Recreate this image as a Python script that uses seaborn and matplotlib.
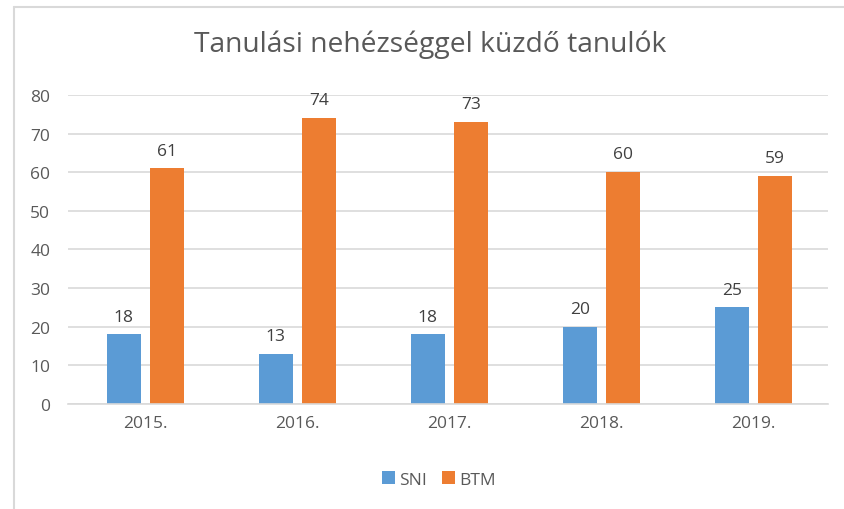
import matplotlib.pyplot as plt
import pandas as pd
import seaborn as sns
from matplotlib.lines import Line2D

# Data
years = ['2015.', '2016.', '2017.', '2018.', '2019.']
sni = [18, 13, 18, 20, 25]
btm = [61, 74, 73, 60, 59]

df = pd.DataFrame({
    'year': years * 2,
    'value': sni + btm,
    'group': ['SNI'] * len(years) + ['BTM'] * len(years),
})

sns.set_style('white')
plt.rcParams['font.family'] = ['Open Sans', 'DejaVu Sans']

fig = plt.figure(figsize=(8.44, 5.1), dpi=100)
ax = fig.add_axes([0.081, 0.206, 0.9, 0.606])

palette = {'SNI': '#5B9BD5', 'BTM': '#ED7D31'}
sns.barplot(data=df, x='year', y='value', hue='group', palette=palette,
            width=0.572, gap=0.21, saturation=1, linewidth=0,
            ax=ax, legend=True)

# value labels over the bars
for cont in ax.containers:
    ax.bar_label(cont, padding=7, fontsize=12.5, color='#404040')

ax.set_ylim(0, 80)
ax.set_xlim(-0.507, 4.49)
ax.set_yticks(range(0, 81, 10))
ax.yaxis.grid(True, color='#D9D9D9', linewidth=1.2)
ax.set_axisbelow(True)
for side in ['top', 'right', 'left']:
    ax.spines[side].set_visible(False)
ax.spines['bottom'].set_color('#D9D9D9')
ax.spines['bottom'].set_linewidth(1.2)
ax.tick_params(axis='both', length=0, labelsize=12.5, labelcolor='#595959')
ax.tick_params(axis='y', pad=13)
ax.tick_params(axis='x', pad=8)
ax.set_xlabel('')
ax.set_ylabel('')

fig.suptitle('Tanulási nehézséggel küzdő tanulók', y=0.94, x=0.51,
             fontsize=20.3, color='#595959')

ax.legend(loc='center', bbox_to_anchor=(0.488, -0.245), ncol=2,
          frameon=False, fontsize=12.5, labelcolor='#595959',
          handlelength=0.75, handleheight=0.75, handletextpad=0.25,
          columnspacing=0.85)

# faint sheet border of the screenshot
fig.add_artist(Line2D([0.016, 0.016], [0, 0.984], color='#D9D9D9', lw=1.5))
fig.add_artist(Line2D([0.016, 1], [0.984, 0.984], color='#D9D9D9', lw=1.5))

fig.savefig('out.png', dpi=100)
